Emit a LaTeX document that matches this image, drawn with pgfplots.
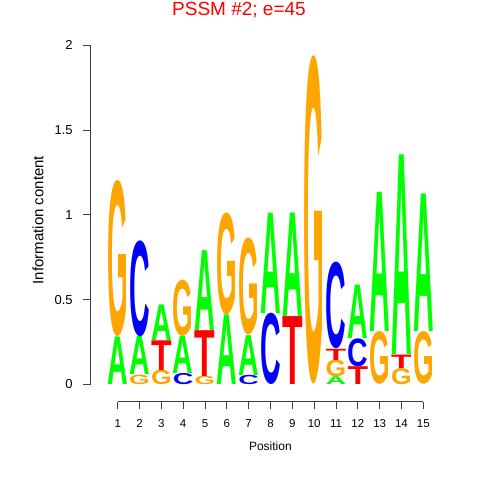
\documentclass[border=0pt]{standalone}
\usepackage{fontspec}
\setmainfont{Liberation Sans}
\usepackage{graphicx}
\usepackage{pgfplots}
\pgfplotsset{compat=1.18}
\usepackage{pgfplotstable}
\definecolor{lA}{RGB}{0,255,0}
\definecolor{lC}{RGB}{0,0,255}
\definecolor{lG}{RGB}{255,165,0}
\definecolor{lT}{RGB}{255,0,0}
\pgfplotstableread{
x y h
1 0 0.28
2 0.056 0.224
3 0.26 0.21
4 0.066 0.22
5 0.32 0.47
6 0 0.41
7 0.055 0.235
8 0.42 0.59
9 0.40 0.61
11 0 0.046
12 0.27 0.315
13 0.31 0.82
14 0.174 1.176
15 0.31 0.81
}\tabA
\pgfplotstableread{
x y h
2 0.28 0.565
4 0 0.066
7 0 0.055
8 0 0.42
11 0.21 0.51
12 0.105 0.165
}\tabC
\pgfplotstableread{
x y h
1 0.28 0.92
2 0 0.056
3 0 0.085
4 0.286 0.33
5 0 0.05
6 0.41 0.60
7 0.29 0.57
10 0 1.93
11 0.046 0.098
13 0 0.31
14 0 0.095
15 0 0.31
}\tabG
\pgfplotstableread{
x y h
3 0.085 0.175
5 0.05 0.27
9 0 0.40
11 0.144 0.066
12 0 0.105
14 0.095 0.079
}\tabT
\pgfplotsset{letter/.style 2 args={scatter, only marks, mark=*, mark size=0pt,
  mark options={draw=none, fill=none},
  visualization depends on={\thisrow{h}\as\hh},
  scatter/@pre marker code/.code={\pgfmathsetlengthmacro\lh{\hh*169.7pt}%
    \node[anchor=south, inner sep=0pt, outer sep=0pt, text=#1] at (canvas cs:x=0pt,y=0pt) {\resizebox*{20.6pt}{\lh}{\bfseries #2}};},
  scatter/@post marker code/.code={}}}
\begin{document}
\begin{tikzpicture}
\useasboundingbox (0,0) rectangle (480pt,480pt);
\begin{axis}[at={(90.7pt,78.3pt)}, anchor=south west, scale only axis,
  width=354.45pt, height=373.6pt,
  xmin=-0.237, xmax=16, ymin=-0.1014, ymax=2.1,
  clip=false,
  axis x line*=bottom, axis y line*=left,
  x axis line style={draw=none}, y axis line style={draw=none},
  tick align=outside, major tick length=7.5pt,
  tick style={black!75, line width=0.75pt},
  xtick={1,2,3,4,5,6,7,8,9,10,11,12,13,14,15},
  xticklabels={1,2,3,4,5,6,7,8,9,10,11,12,13,14,15},
  ytick={0,0.5,1,1.5,2},
  yticklabels={0,0.5,1,1.5,2},
  xticklabel style={font=\fontsize{11.5}{13}\selectfont, yshift=-7pt},
  yticklabel style={font=\fontsize{13}{15}\selectfont, xshift=-7pt},
  xlabel={Position}, ylabel={Information content},
  every axis x label/.style={at={(axis description cs:0.507,-0.1186)}, anchor=center, font=\fontsize{12}{14}\selectfont},
  every axis y label/.style={at={(axis description cs:-0.1487,0.486)}, rotate=90, anchor=center, font=\fontsize{15}{17}\selectfont},
  title={PSSM \#2; e=45},
  every axis title/.style={at={(axis description cs:0.4184,1.0337)}, anchor=base, inner sep=0pt, font=\fontsize{19}{21}\selectfont, text=red},
]
\addplot[letter={lA}{A}] table[x=x,y=y] {\tabA};
\addplot[letter={lC}{C}] table[x=x,y=y] {\tabC};
\addplot[letter={lG}{G}] table[x=x,y=y] {\tabG};
\addplot[letter={lT}{T}] table[x=x,y=y] {\tabT};
\draw[black!75, line width=0.75pt] (axis cs:1,-0.1014) -- (axis cs:15,-0.1014);
\draw[black!75, line width=0.75pt] (axis cs:-0.237,0) -- (axis cs:-0.237,2);
\end{axis}
\end{tikzpicture}
\end{document}
